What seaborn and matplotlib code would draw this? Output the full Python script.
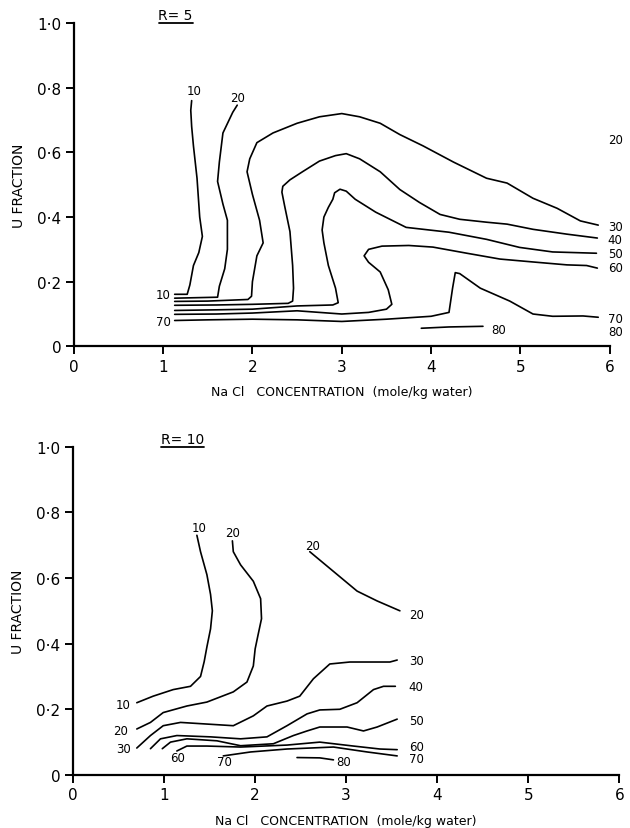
"""Contour lines of U fraction vs NaCl concentration for R = 5 and R = 10."""

import matplotlib

matplotlib.use("Agg")
import matplotlib.pyplot as plt
import pandas as pd
import seaborn as sns

# ---- R = 5 (upper panel), contour lines ----
r5_10_x = [1.13, 1.27, 1.30, 1.34, 1.40, 1.44, 1.41, 1.38, 1.34, 1.32, 1.31, 1.32]
r5_10_y = [0.161, 0.161, 0.19, 0.25, 0.29, 0.34, 0.40, 0.52, 0.62, 0.68, 0.73, 0.76]

r5_20_x = [1.13, 1.61, 1.63, 1.69, 1.72, 1.72, 1.67, 1.61, 1.63, 1.67, 1.78, 1.83]
r5_20_y = [0.149, 0.152, 0.186, 0.24, 0.30, 0.39, 0.44, 0.51, 0.57, 0.66, 0.724, 0.746]

r5_30_x = [1.13, 1.5, 1.95, 1.99, 2.0, 2.05, 2.12, 2.08, 2.0, 1.94, 1.97, 2.05, 2.23,
           2.5, 2.75, 3.0, 3.2, 3.43, 3.65, 3.91, 4.25, 4.62, 4.85, 5.14, 5.41, 5.67, 5.87]
r5_30_y = [0.139, 0.140, 0.145, 0.155, 0.20, 0.28, 0.32, 0.39, 0.47, 0.54, 0.58, 0.63, 0.66,
           0.69, 0.71, 0.72, 0.71, 0.69, 0.655, 0.62, 0.57, 0.52, 0.505, 0.458, 0.427, 0.388, 0.375]

r5_40_x = [1.13, 1.6, 2.0, 2.4, 2.45, 2.46, 2.45, 2.42, 2.36, 2.33, 2.34, 2.42, 2.56, 2.75,
           2.93, 3.05, 3.2, 3.43, 3.65, 3.87, 4.1, 4.32, 4.62, 4.85, 5.14, 5.52, 5.86]
r5_40_y = [0.127, 0.128, 0.13, 0.133, 0.14, 0.18, 0.25, 0.355, 0.435, 0.477, 0.495, 0.515,
           0.54, 0.573, 0.59, 0.596, 0.58, 0.54, 0.485, 0.445, 0.408, 0.393, 0.384, 0.378,
           0.362, 0.347, 0.335]

r5_50_x = [1.13, 1.6, 2.0, 2.5, 2.9, 2.96, 2.93, 2.85, 2.8, 2.78, 2.8, 2.85, 2.9, 2.92, 2.98,
           3.05, 3.15, 3.38, 3.72, 4.2, 4.62, 4.99, 5.36, 5.85]
r5_50_y = [0.111, 0.113, 0.115, 0.125, 0.128, 0.135, 0.18, 0.25, 0.32, 0.36, 0.40, 0.43,
           0.455, 0.475, 0.486, 0.48, 0.455, 0.415, 0.368, 0.353, 0.331, 0.306, 0.292, 0.288]

r5_60_x = [1.13, 1.6, 2.0, 2.5, 3.0, 3.3, 3.5, 3.56, 3.52, 3.43, 3.3, 3.25, 3.3, 3.45, 3.75,
           4.02, 4.4, 4.77, 5.14, 5.52, 5.74, 5.86]
r5_60_y = [0.099, 0.10, 0.103, 0.11, 0.10, 0.105, 0.115, 0.13, 0.175, 0.23, 0.26, 0.28,
           0.30, 0.31, 0.312, 0.307, 0.288, 0.27, 0.261, 0.252, 0.25, 0.242]

r5_70_x = [1.13, 1.5, 2.0, 2.5, 3.0, 3.5, 4.0, 4.2, 4.24, 4.27, 4.32, 4.55, 4.88, 5.14,
           5.36, 5.7, 5.87]
r5_70_y = [0.080, 0.082, 0.084, 0.082, 0.077, 0.084, 0.093, 0.105, 0.18, 0.228, 0.225,
           0.18, 0.14, 0.10, 0.093, 0.094, 0.09]

r5_80_x = [3.89, 4.2, 4.58]
r5_80_y = [0.056, 0.060, 0.062]

# ---- R = 10 (lower panel) ----
r10_10_x = [0.70, 0.88, 1.10, 1.29, 1.40, 1.44, 1.47, 1.51, 1.53, 1.51, 1.47, 1.40, 1.36]
r10_10_y = [0.22, 0.24, 0.26, 0.27, 0.30, 0.345, 0.39, 0.445, 0.50, 0.55, 0.61, 0.68, 0.73]

r10_20_x = [0.70, 0.85, 0.99, 1.25, 1.47, 1.76, 1.91, 1.98, 2.0, 2.03, 2.07, 2.06, 1.98,
            1.84, 1.76, 1.75]
r10_20_y = [0.14, 0.16, 0.19, 0.21, 0.222, 0.253, 0.283, 0.332, 0.384, 0.424, 0.476,
            0.537, 0.59, 0.64, 0.68, 0.713]

r10_20b_x = [2.60, 2.86, 3.12, 3.34, 3.59]
r10_20b_y = [0.68, 0.62, 0.56, 0.53, 0.50]

r10_30_x = [0.70, 0.85, 0.99, 1.18, 1.47, 1.76, 1.98, 2.13, 2.35, 2.49, 2.64, 2.82, 3.04,
            3.48, 3.56]
r10_30_y = [0.082, 0.12, 0.15, 0.16, 0.155, 0.15, 0.18, 0.21, 0.225, 0.24, 0.293, 0.338,
            0.344, 0.344, 0.35]

r10_40_x = [0.85, 0.96, 1.14, 1.51, 1.84, 2.13, 2.35, 2.57, 2.71, 2.93, 3.12, 3.30, 3.41, 3.54]
r10_40_y = [0.08, 0.11, 0.12, 0.116, 0.11, 0.116, 0.15, 0.186, 0.198, 0.20, 0.22, 0.26,
            0.27, 0.27]

r10_50_x = [0.98, 1.07, 1.25, 1.58, 1.84, 2.20, 2.42, 2.57, 2.71, 3.01, 3.19, 3.34, 3.56]
r10_50_y = [0.08, 0.10, 0.11, 0.104, 0.089, 0.095, 0.12, 0.134, 0.146, 0.146, 0.134,
            0.146, 0.17]

r10_60_x = [1.14, 1.25, 1.47, 1.84, 2.35, 2.71, 3.08, 3.37, 3.56]
r10_60_y = [0.073, 0.088, 0.088, 0.085, 0.091, 0.10, 0.088, 0.079, 0.077]

r10_70_x = [1.65, 1.95, 2.35, 2.86, 3.23, 3.56]
r10_70_y = [0.058, 0.07, 0.079, 0.085, 0.07, 0.058]

r10_80_x = [2.46, 2.71, 2.86]
r10_80_y = [0.053, 0.052, 0.046]

# ---- contour labels: text, x, y ----
r5_label_text = ["10", "20", "10", "70", "20", "30", "40", "50", "60", "70", "80", "80"]
r5_label_x = [1.35, 1.83, 1.00, 1.00, 6.06, 6.06, 6.06, 6.06, 6.06, 6.06, 6.06, 4.75]
r5_label_y = [0.79, 0.77, 0.161, 0.078, 0.64, 0.372, 0.331, 0.288, 0.245, 0.087, 0.046, 0.053]

r10_label_text = ["10", "20", "20", "20", "30", "40", "50", "60", "70", "80",
                  "10", "20", "30", "60", "70"]
r10_label_x = [1.38, 1.75, 2.63, 3.77, 3.77, 3.77, 3.77, 3.77, 3.77, 2.97,
               0.55, 0.52, 0.55, 1.15, 1.66]
r10_label_y = [0.755, 0.738, 0.70, 0.49, 0.348, 0.27, 0.165, 0.088, 0.05, 0.04,
               0.216, 0.135, 0.08, 0.052, 0.040]

X_TICKS = [0, 1, 2, 3, 4, 5, 6]
X_TICK_LABELS = ["0", "1", "2", "3", "4", "5", "6"]
Y_TICKS = [0, 0.2, 0.4, 0.6, 0.8, 1.0]
Y_TICK_LABELS = ["0", "0·2", "0·4", "0·6", "0·8", "1·0"]

X_LABEL = "Na Cl   CONCENTRATION  (mole/kg water)"
Y_LABEL = "U FRACTION"


def build_frame(lines):
    frames = []
    for name, (xs, ys) in lines.items():
        frames.append(pd.DataFrame({"x": xs, "y": ys, "line": name}))
    return pd.concat(frames, ignore_index=True)


def draw_panel(ax, df, texts, xs, ys, title, title_x, underline):
    sns.lineplot(data=df, x="x", y="y", units="line", estimator=None, sort=False,
                 color="black", linewidth=1.2, legend=False, ax=ax)
    for t, x, y in zip(texts, xs, ys):
        ax.text(x, y, t, ha="center", va="center", fontsize=8.5, clip_on=False)

    ax.set_xlim(0, 6)
    ax.set_ylim(0, 1)
    sns.despine(ax=ax)
    for side in ("left", "bottom"):
        ax.spines[side].set_linewidth(1.6)
    ax.set_xticks(X_TICKS)
    ax.set_xticklabels(X_TICK_LABELS)
    ax.set_yticks(Y_TICKS)
    ax.set_yticklabels(Y_TICK_LABELS)
    ax.tick_params(direction="out", length=6, width=1.4, labelsize=11, pad=3)
    ax.set_xlabel(X_LABEL, fontsize=9, labelpad=8)
    ax.set_ylabel(Y_LABEL, fontsize=10, labelpad=8)

    # underlined panel title
    ax.text(title_x, 1.024, title, ha="center", va="center", fontsize=10, clip_on=False)
    ax.plot(underline, [0.999, 0.999], color="black", linewidth=1.3, clip_on=False)


def main():
    sns.set_style("ticks", {
        "text.color": "black", "axes.labelcolor": "black", "axes.edgecolor": "black",
        "xtick.color": "black", "ytick.color": "black",
    })
    plt.rcParams["font.family"] = ["DejaVu Sans"]

    r5 = build_frame({
        "10": (r5_10_x, r5_10_y), "20": (r5_20_x, r5_20_y), "30": (r5_30_x, r5_30_y),
        "40": (r5_40_x, r5_40_y), "50": (r5_50_x, r5_50_y), "60": (r5_60_x, r5_60_y),
        "70": (r5_70_x, r5_70_y), "80": (r5_80_x, r5_80_y),
    })
    r10 = build_frame({
        "10": (r10_10_x, r10_10_y), "20": (r10_20_x, r10_20_y), "20b": (r10_20b_x, r10_20b_y),
        "30": (r10_30_x, r10_30_y), "40": (r10_40_x, r10_40_y), "50": (r10_50_x, r10_50_y),
        "60": (r10_60_x, r10_60_y), "70": (r10_70_x, r10_70_y), "80": (r10_80_x, r10_80_y),
    })

    fig = plt.figure(figsize=(6.3, 8.29), dpi=100)
    ax1 = fig.add_axes([0.117, 0.581, 0.851, 0.390])
    ax2 = fig.add_axes([0.116, 0.064, 0.867, 0.396])

    draw_panel(ax1, r5, r5_label_text, r5_label_x, r5_label_y, "R= 5", 1.14, [0.95, 1.34])
    draw_panel(ax2, r10, r10_label_text, r10_label_x, r10_label_y, "R= 10", 1.20, [0.97, 1.44])

    fig.savefig("out.png", dpi=100)
    plt.close(fig)


if __name__ == "__main__":
    main()
